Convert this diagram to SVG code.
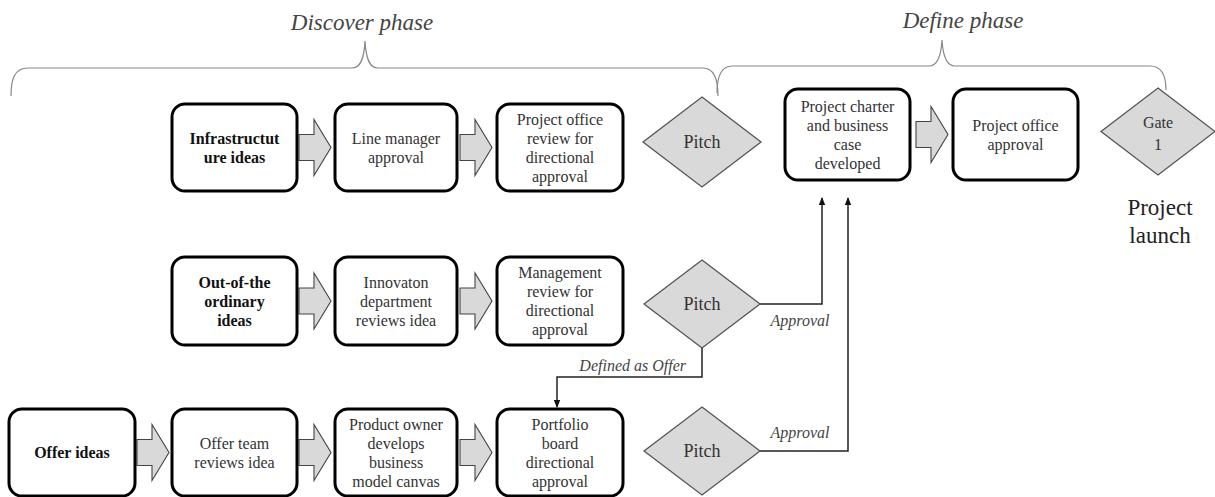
<svg xmlns="http://www.w3.org/2000/svg" width="1215" height="497" viewBox="0 0 1215 497">
<style>
.box{fill:#fff;stroke:#000;stroke-width:3}
.dia{fill:#d9d9d9;stroke:#555;stroke-width:1.3}
.blk{fill:#d9d9d9;stroke:#444;stroke-width:1.1}
.t{font-family:"Liberation Serif","Times New Roman",serif;font-size:16px;fill:#333;text-anchor:middle}
.b{font-weight:bold;fill:#111}
.dt{font-size:18px}
.big{font-size:23px;fill:#222}
.it{font-family:"Liberation Serif","Times New Roman",serif;font-style:italic;fill:#444}
.ph{font-size:23px;text-anchor:middle}
.lb{font-size:16px}
.br{fill:none;stroke:#888;stroke-width:1.2}
.con{fill:none;stroke:#222;stroke-width:1.5}
</style>
<defs>
<marker id="ah" markerWidth="8" markerHeight="8" refX="7" refY="4" orient="auto" markerUnits="userSpaceOnUse">
<path d="M0,0.8 L8,4 L0,7.2 Z" fill="#111"/>
</marker>
<polygon id="barrow" points="0,-13 15,-13 15,-28 32,0 15,28 15,13 0,13"/>
</defs>

<g id="phases">
<text class="it ph" x="362" y="30">Discover phase</text>
<path class="br" d="M11,96 C11,80 14,68 28,68 L352,68 C360,68 364,60 365,41 C366,60 370,68 378,68 L703,68 C714,68 718,80 718,96"/>
<text class="it ph" x="963" y="28">Define phase</text>
<path class="br" d="M717,93 C717,78 720,66 732,66 L929,66 C937,66 941,58 942,40 C943,58 947,66 955,66 L1150,66 C1162,66 1166,76 1166,90"/>
</g>

<g id="block-arrows">
<use href="#barrow" class="blk" x="299" y="147.5"/>
<use href="#barrow" class="blk" x="460" y="147.5"/>
<use href="#barrow" class="blk" x="916" y="134.5"/>
<use href="#barrow" class="blk" x="299" y="301"/>
<use href="#barrow" class="blk" x="460" y="301"/>
<use href="#barrow" class="blk" x="137" y="452.5"/>
<use href="#barrow" class="blk" x="299" y="452.5"/>
<use href="#barrow" class="blk" x="460" y="452.5"/>
</g>

<g id="connectors">
<polyline class="con" points="760,304 822,304 822,198" marker-end="url(#ah)"/>
<polyline class="con" points="760,451 848,451 848,198" marker-end="url(#ah)"/>
<polyline class="con" points="702,348 702,377 557,377 557,407" marker-end="url(#ah)"/>
<text class="it lb" x="800" y="326" text-anchor="middle">Approval</text>
<text class="it lb" x="800" y="438" text-anchor="middle">Approval</text>
<text class="it lb" x="686" y="371" text-anchor="end">Defined as Offer</text>
</g>

<g id="n-infra">
<rect class="box" x="172" y="104" width="125" height="87" rx="13"/>
<text class="t b" x="234.5" y="143.5">Infrastructut</text>
<text class="t b" x="234.5" y="162.5">ure ideas</text>
</g>
<g id="n-line-manager">
<rect class="box" x="335" y="104" width="122" height="87" rx="13"/>
<text class="t" x="396" y="143.5">Line manager</text>
<text class="t" x="396" y="162.5">approval</text>
</g>
<g id="n-po-review">
<rect class="box" x="497" y="104" width="126" height="87" rx="13"/>
<text class="t" x="560" y="124.5">Project office</text>
<text class="t" x="560" y="143.5">review for</text>
<text class="t" x="560" y="162.5">directional</text>
<text class="t" x="560" y="181.5">approval</text>
</g>
<g id="n-pitch1">
<polygon class="dia" points="702,97 761,142 702,187 643,142"/>
<text class="t dt" x="702" y="148">Pitch</text>
</g>
<g id="n-charter">
<rect class="box" x="785" y="89" width="125" height="91" rx="13"/>
<text class="t" x="847.5" y="111.5">Project charter</text>
<text class="t" x="847.5" y="130.5">and business</text>
<text class="t" x="847.5" y="149.5">case</text>
<text class="t" x="847.5" y="168.5">developed</text>
</g>
<g id="n-po-approval">
<rect class="box" x="953" y="89" width="125" height="91" rx="13"/>
<text class="t" x="1015.5" y="130.5">Project office</text>
<text class="t" x="1015.5" y="149.5">approval</text>
</g>
<g id="n-gate">
<polygon class="dia" points="1158,88 1215,131.5 1158,175 1101,131.5"/>
<text class="t" x="1158" y="128">Gate</text>
<text class="t" x="1158" y="150">1</text>
<text class="t big" x="1160" y="215">Project</text>
<text class="t big" x="1160" y="243">launch</text>
</g>

<g id="n-ooto">
<rect class="box" x="172" y="257" width="125" height="88" rx="13"/>
<text class="t b" x="234.5" y="287.5">Out-of-the</text>
<text class="t b" x="234.5" y="306.5">ordinary</text>
<text class="t b" x="234.5" y="325.5">ideas</text>
</g>
<g id="n-innovation">
<rect class="box" x="335" y="257" width="122" height="88" rx="13"/>
<text class="t" x="396" y="287.5">Innovaton</text>
<text class="t" x="396" y="306.5">department</text>
<text class="t" x="396" y="325.5">reviews idea</text>
</g>
<g id="n-mgmt">
<rect class="box" x="497" y="257" width="126" height="88" rx="13"/>
<text class="t" x="560" y="278">Management</text>
<text class="t" x="560" y="297">review for</text>
<text class="t" x="560" y="316">directional</text>
<text class="t" x="560" y="335">approval</text>
</g>
<g id="n-pitch2">
<polygon class="dia" points="702,260 760,304 702,348 644,304"/>
<text class="t dt" x="702" y="310">Pitch</text>
</g>

<g id="n-offer">
<rect class="box" x="9" y="409" width="126" height="87" rx="13"/>
<text class="t b" x="72" y="458">Offer ideas</text>
</g>
<g id="n-offer-team">
<rect class="box" x="172" y="409" width="125" height="87" rx="13"/>
<text class="t" x="234.5" y="448.5">Offer team</text>
<text class="t" x="234.5" y="467.5">reviews idea</text>
</g>
<g id="n-product-owner">
<rect class="box" x="335" y="409" width="122" height="87" rx="13"/>
<text class="t" x="396" y="429.5">Product owner</text>
<text class="t" x="396" y="448.5">develops</text>
<text class="t" x="396" y="467.5">business</text>
<text class="t" x="396" y="486.5">model canvas</text>
</g>
<g id="n-portfolio">
<rect class="box" x="497" y="409" width="126" height="87" rx="13"/>
<text class="t" x="560" y="429.5">Portfolio</text>
<text class="t" x="560" y="448.5">board</text>
<text class="t" x="560" y="467.5">directional</text>
<text class="t" x="560" y="486.5">approval</text>
</g>
<g id="n-pitch3">
<polygon class="dia" points="702,407 760,451 702,495 644,451"/>
<text class="t dt" x="702" y="457">Pitch</text>
</g>
</svg>
